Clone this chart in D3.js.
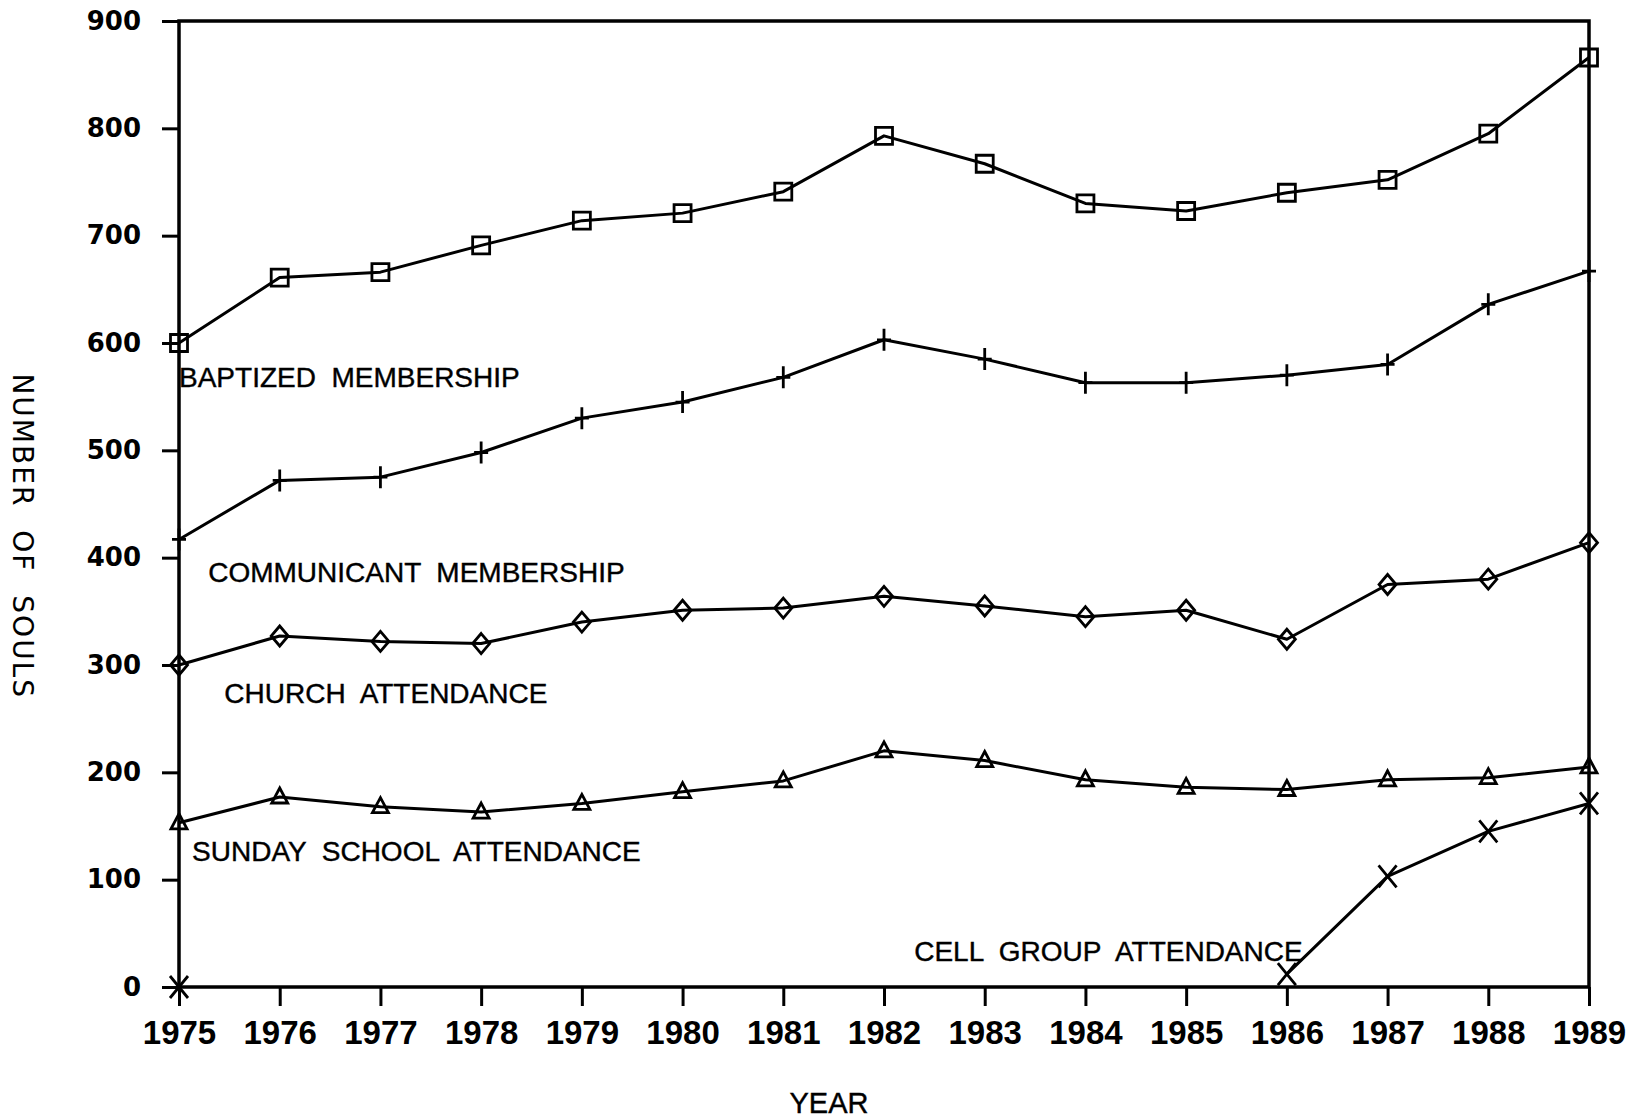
<!DOCTYPE html>
<html>
<head>
<meta charset="utf-8">
<script src="https://cdn.jsdelivr.net/npm/d3@7"></script>
<style>
  html, body { margin: 0; padding: 0; background: #fff; }
  svg { display: block; }
  .tick text { fill: #000; }
</style>
</head>
<body>
<div id="chart"></div>
<script>
var years = [1975, 1976, 1977, 1978, 1979, 1980, 1981, 1982, 1983, 1984, 1985, 1986, 1987, 1988, 1989];
var baptized =     [600, 661, 666, 691, 714, 721, 741, 793, 767, 730, 723, 740, 752, 795, 866];
var communicant =  [417, 472, 475, 498, 530, 545, 568, 603, 585, 563, 563, 570, 580, 636, 667];
var church =       [300, 327, 322, 320, 340, 351, 353, 364, 355, 345, 351, 324, 375, 380, 414];
var sundaySchool = [153, 177, 168, 163, 171, 182, 192, 220, 211, 193, 186, 184, 193, 195, 205];
var cellGroup =    [0, null, null, null, null, null, null, null, null, null, null, 12, 103, 145, 171];
var yTicks = [0, 100, 200, 300, 400, 500, 600, 700, 800, 900];

var seriesNames = ['BAPTIZED  MEMBERSHIP', 'COMMUNICANT  MEMBERSHIP', 'CHURCH  ATTENDANCE',
	'SUNDAY  SCHOOL  ATTENDANCE', 'CELL  GROUP  ATTENDANCE'];
var seriesValues = [baptized, communicant, church, sundaySchool, cellGroup];
var seriesMarkers = ['square', 'plus', 'diamond', 'triangle', 'cross'];
// where each series name sits, in data units (left edge, vertical centre)
var labelYears = [1975.0, 1975.29, 1975.45, 1975.13, 1982.3];
var labelValues = [568, 387, 274, 127, 33.5];

var width = 1632, height = 1120;
var margin = {top: 21, right: 43, bottom: 133, left: 179};

var svg = d3.select('#chart').append('svg')
	.attr('width', width)
	.attr('height', height);

var x = d3.scaleLinear()
	.domain([1975, 1989])
	.range([margin.left, width - margin.right]);

var y = d3.scaleLinear()
	.domain([0, 900])
	.range([height - margin.bottom, margin.top]);

// y axis
svg.append('g')
	.attr('transform', 'translate(' + margin.left + ',0)')
	.call(d3.axisLeft(y).tickValues(yTicks).tickSize(17).tickPadding(21).tickFormat(d3.format('d')))
	.call(function(g) { g.select('.domain').remove(); })
	.call(function(g) {
		g.selectAll('.tick line').attr('stroke', '#000').attr('stroke-width', 3);
		g.selectAll('.tick text')
			.style('font-family', '"DejaVu Sans", sans-serif')
			.style('font-weight', 'bold')
			.style('font-size', '26px');
	});

// x axis
svg.append('g')
	.attr('transform', 'translate(0,' + y(0) + ')')
	.call(d3.axisBottom(x).tickValues(years).tickSize(19).tickPadding(15).tickFormat(d3.format('d')))
	.call(function(g) { g.select('.domain').remove(); })
	.call(function(g) {
		g.selectAll('.tick line').attr('stroke', '#000').attr('stroke-width', 3);
		g.selectAll('.tick text')
			.style('font-family', '"Liberation Sans", Arial, sans-serif')
			.style('font-weight', 'bold')
			.style('font-size', '33px');
	});

// frame
svg.append('rect')
	.attr('x', x(1975))
	.attr('y', y(900))
	.attr('width', x(1989) - x(1975))
	.attr('height', y(0) - y(900))
	.attr('fill', 'none')
	.attr('stroke', '#000')
	.attr('stroke-width', 3.5);

function markerPath(type) {
	switch (type) {
		case 'square': return 'M-8.5,-8.5H8.5V8.5H-8.5Z';
		case 'plus': return 'M0,-11V11M-7,0H7';
		case 'diamond': return 'M0,-10L8.5,0L0,10L-8.5,0Z';
		case 'triangle': return 'M0,-9L8,6H-8Z';
		case 'cross': return 'M-9,-11L9,11M-9,11L9,-11';
	}
}

var line = d3.line()
	.defined(function(d) { return d.value != null; })
	.x(function(d) { return x(d.year); })
	.y(function(d) { return y(d.value); });

var series = seriesValues.map(function(vals, i) {
	return {
		name: seriesNames[i],
		marker: seriesMarkers[i],
		points: years.map(function(yr, j) { return {year: yr, value: vals[j]}; })
	};
});

var groups = svg.selectAll('.series')
	.data(series)
	.enter()
	.append('g')
	.attr('class', 'series');

groups.append('path')
	.attr('d', function(d) { return line(d.points); })
	.attr('fill', 'none')
	.attr('stroke', '#000')
	.attr('stroke-width', 3)
	.attr('stroke-linejoin', 'round');

groups.selectAll('.marker')
	.data(function(d) {
		return d.points.filter(function(p) { return p.value != null; })
			.map(function(p) { return {year: p.year, value: p.value, marker: d.marker}; });
	})
	.enter()
	.append('path')
	.attr('class', 'marker')
	.attr('transform', function(d) { return 'translate(' + x(d.year) + ',' + y(d.value) + ')'; })
	.attr('d', function(d) { return markerPath(d.marker); })
	.attr('fill', 'none')
	.attr('stroke', '#000')
	.attr('stroke-width', 2.8);

groups.append('text')
	.attr('x', function(d, i) { return x(labelYears[i]); })
	.attr('y', function(d, i) { return y(labelValues[i]); })
	.attr('dy', '0.36em')
	.style('font-family', '"Liberation Sans", Arial, sans-serif')
	.style('font-size', '28px')
	.style('white-space', 'pre')
	.attr('fill', '#000')
	.attr('stroke', '#000')
	.attr('stroke-width', 0.4)
	.text(function(d) { return d.name; });

// axis titles
svg.append('text')
	.attr('transform', 'translate(13,' + y(420) + ') rotate(90)')
	.attr('text-anchor', 'middle')
	.style('font-family', '"DejaVu Sans", sans-serif')
	.style('font-size', '28px')
	.style('letter-spacing', '2px')
	.style('word-spacing', '12px')
	.attr('fill', '#000')
	.text('NUMBER OF SOULS');

svg.append('text')
	.attr('x', 829)
	.attr('y', 1113)
	.attr('text-anchor', 'middle')
	.style('font-family', '"Liberation Sans", Arial, sans-serif')
	.style('font-size', '29px')
	.attr('fill', '#000')
	.attr('stroke', '#000')
	.attr('stroke-width', 0.4)
	.text('YEAR');
</script>
</body>
</html>
